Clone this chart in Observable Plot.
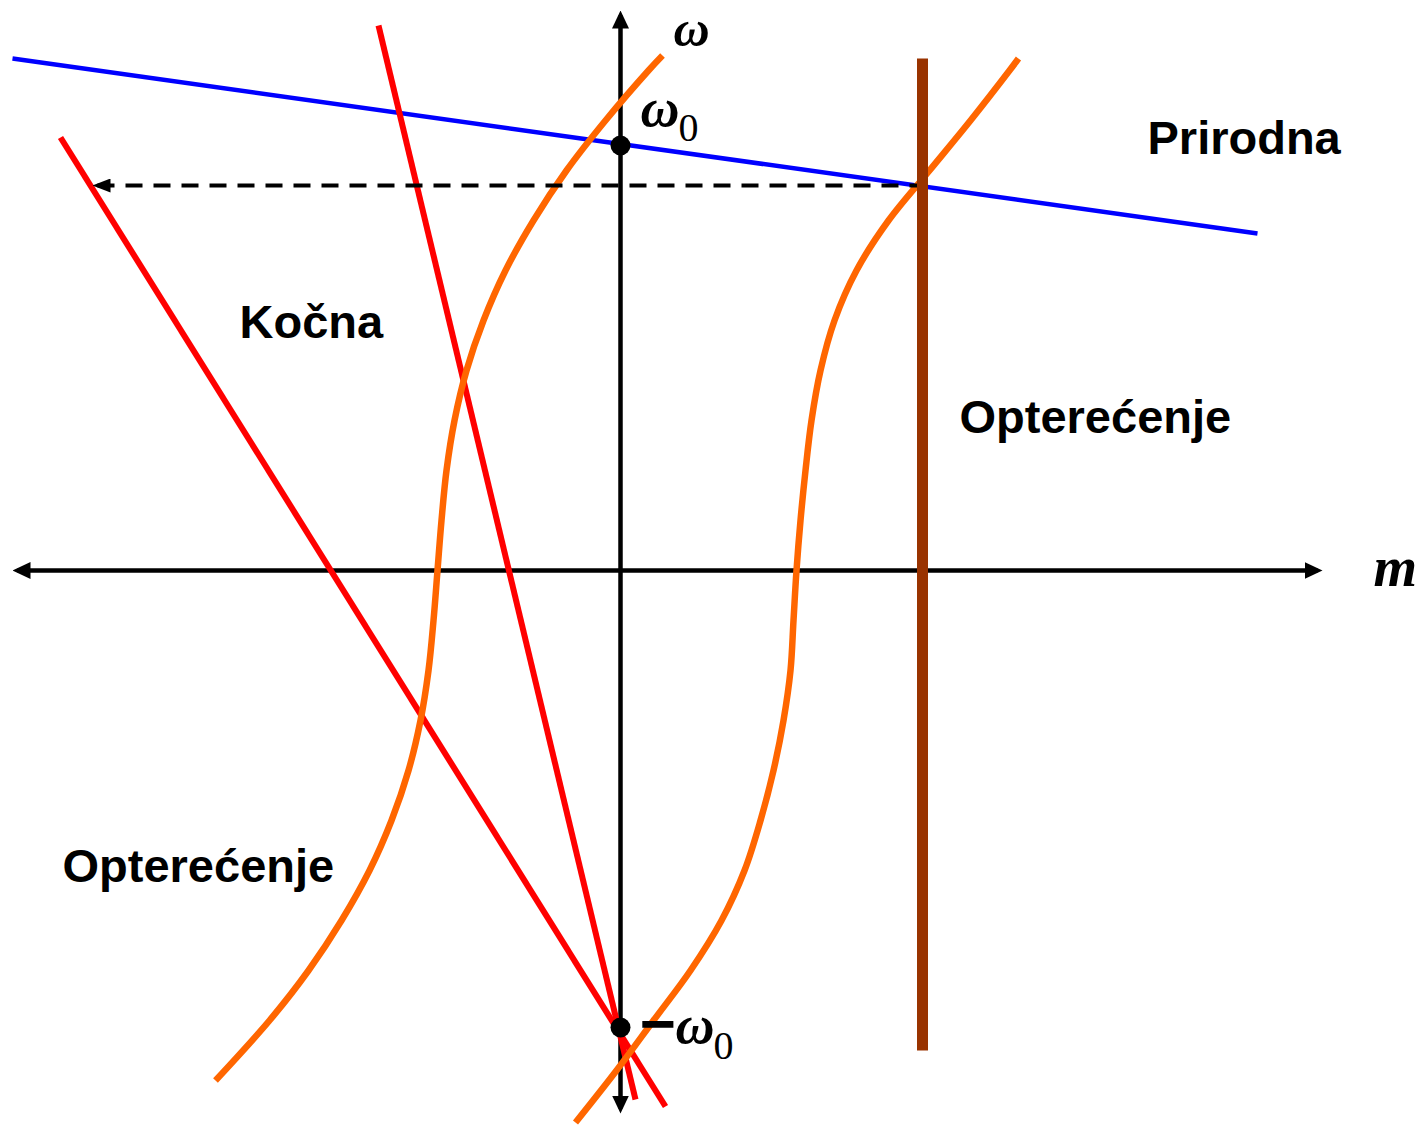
<!DOCTYPE html>
<html><head><meta charset="utf-8">
<script src="https://cdn.jsdelivr.net/npm/d3@7"></script>
<script src="https://cdn.jsdelivr.net/npm/@observablehq/plot@0.6"></script>
<style>body{margin:0;background:#fff}</style>
</head><body><div id="chart"></div>
<script>
// ---- data (m = torque axis, w = speed axis; origin at the axes crossing) ----
const axisM = [-603, 697];            // horizontal m axis extent
const axisW = [-538, 555];            // vertical ω axis extent
const omega0 = 425;                   // ω0
const minusOmega0 = -457;             // −ω0
const prirodnaM = [-608, 637];        // natural characteristic (blue)
const prirodnaW = [512, 337];
const kocna1M = [-242, 15];           // braking characteristic 1 (red)
const kocna1W = [545, -529];
const kocna2M = [-560, 45];           // braking characteristic 2 (red)
const kocna2W = [433, -536];
// load characteristic, left (orange)
const opt1W = [-510,-450,-400,-350,-300,-250,-200,-150,-100,-50,0,50,100,150,200,250,300,350,400,450,500,515];
const opt1M = [-405,-351,-312,-279,-251,-229,-212,-200,-192,-187,-183,-179,-174,-166,-154,-137,-115,-87,-54,-15,28,42];
// load characteristic, right (orange)
const opt2W = [-552,-500,-450,-400,-350,-300,-250,-200,-150,-100,-50,0,50,100,150,200,250,300,350,400,450,500,512];
const opt2M = [-45,-4,33,70,101,124,140,153,163,170,173,176,180,185,191,200,214,236,268,309,350,389,398];
const loadM = 302;                    // constant load torque (brown)
const loadW = [512, -480];
const dashM = [-523, 300];            // dashed projection
const dashW = 385;

const pts = (ms, ws) => ms.map((m, i) => ({m, w: ws[i]}));

function headMarker(len, half, back) {
  return (color, context) => {
    const mk = d3.create("svg:marker")
      .attr("viewBox", `0 ${-half} ${len} ${2*half}`)
      .attr("markerUnits", "userSpaceOnUse")
      .attr("markerWidth", len)
      .attr("markerHeight", 2*half)
      .attr("refX", back)
      .attr("refY", 0)
      .attr("orient", "auto-start-reverse");
    mk.append("path").attr("d", `M0,${-half}L${len},0L0,${half}Z`).attr("fill", "#000").attr("stroke", "none");
    return mk.node();
  };
}
const axisHead = headMarker(18, 8.5, 13);
const dashHead = headMarker(18, 7, 13);

const serif = "'Liberation Serif', 'Times New Roman', serif";
const sans = "'Liberation Sans', Arial, sans-serif";

const lab = (t, m, w, opts) => Plot.text([{t, m, w}], {x: "m", y: "w", text: "t", textAnchor: "start", lineAnchor: "bottom", fill: "#000", ...opts});
const greek = {fontFamily: serif, fontStyle: "italic", fontWeight: "bold"};
const word = {fontFamily: sans, fontWeight: "bold", fontSize: 47};

const chart = Plot.plot({
  width: 1425, height: 1125, margin: 0,
  x: {domain: [-620, 805], axis: null},
  y: {domain: [-555, 570], axis: null},
  marks: [
    Plot.line(pts(axisM, [0, 0]), {x: "m", y: "w", stroke: "#000", strokeWidth: 4.5, strokeLinecap: "butt", markerStart: axisHead, markerEnd: axisHead}),
    Plot.line(pts([0, 0], axisW), {x: "m", y: "w", stroke: "#000", strokeWidth: 4.5, strokeLinecap: "butt", markerStart: axisHead, markerEnd: axisHead}),
    Plot.line(pts(prirodnaM, prirodnaW), {x: "m", y: "w", stroke: "#0000FF", strokeWidth: 4.5, strokeLinecap: "butt"}),
    Plot.line(pts(kocna1M, kocna1W), {x: "m", y: "w", stroke: "#FF0000", strokeWidth: 6, strokeLinecap: "butt"}),
    Plot.line(pts(kocna2M, kocna2W), {x: "m", y: "w", stroke: "#FF0000", strokeWidth: 6, strokeLinecap: "butt"}),
    Plot.line(pts(opt1M, opt1W), {x: "m", y: "w", stroke: "#FF6600", strokeWidth: 6.5, strokeLinecap: "butt", curve: "catmull-rom"}),
    Plot.line(pts(opt2M, opt2W), {x: "m", y: "w", stroke: "#FF6600", strokeWidth: 6.5, strokeLinecap: "butt", curve: "catmull-rom"}),
    Plot.line(pts(dashM, [dashW, dashW]), {x: "m", y: "w", stroke: "#000", strokeWidth: 4, strokeDasharray: "17,11", strokeLinecap: "butt", markerStart: dashHead}),
    Plot.line(pts([loadM, loadM], loadW), {x: "m", y: "w", stroke: "#993300", strokeWidth: 11, strokeLinecap: "butt"}),
    Plot.dot([{m: 0, w: omega0}, {m: 0, w: minusOmega0}], {x: "m", y: "w", r: 10, fill: "#000", stroke: "none"}),
    lab("ω", 53, 525, {...greek, fontSize: 50}),
    lab("ω", 20, 445, {...greek, fontSize: 54}),
    lab("0", 58, 430, {fontFamily: serif, fontSize: 40}),
    lab("−", 19, -474, {fontFamily: sans, fontWeight: "bold", fontSize: 62}),
    lab("ω", 55, -472, {...greek, fontSize: 54}),
    lab("0", 93, -488, {fontFamily: serif, fontSize: 40}),
    lab("m", 753, -15, {...greek, fontSize: 56}),
    lab("Prirodna", 527, 417, word),
    lab("Kočna", -381, 233, word),
    lab("Opterećenje", 339, 138, word),
    lab("Opterećenje", -558, -311, word)
  ]
});
document.getElementById("chart").append(chart);
</script>
</body></html>
